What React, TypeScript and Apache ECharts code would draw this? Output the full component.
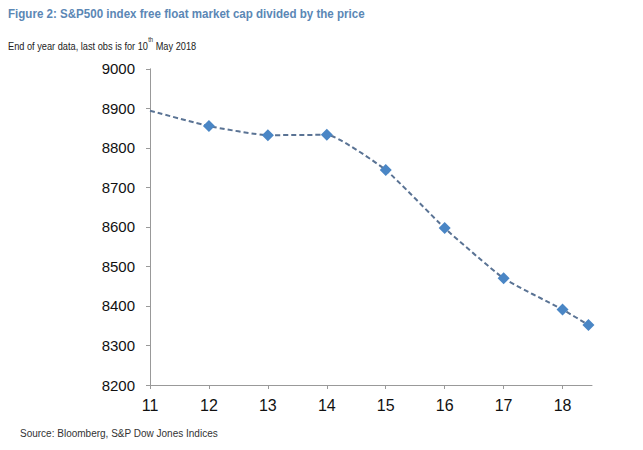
import React, { useEffect, useRef } from "react";
import * as echarts from "echarts";

const xValues = [11, 12, 13, 14, 15, 16, 17, 18, 18.44];
const yValues = [8894, 8855, 8832, 8833, 8744, 8597, 8470, 8391, 8352];
const titleText = "Figure 2: S&P500 index free float market cap divided by the price";
const sourceText = "Source: Bloomberg, S&P Dow Jones Indices";

const FONT = "'Liberation Sans', Arial, sans-serif";

export default function App() {
  const ref = useRef<HTMLDivElement>(null);
  useEffect(() => {
    if (!ref.current) return;
    const chart = echarts.init(ref.current, undefined, { renderer: "svg" });
    const data = xValues.map((x, i) =>
      i === 0 ? { value: [x, yValues[i]], symbol: "none" } : { value: [x, yValues[i]] }
    );
    chart.setOption({
      animation: false,
      backgroundColor: "#ffffff",
      textStyle: { fontFamily: FONT },
      graphic: [
        {
          type: "text",
          x: 8,
          y: 7,
          scaleX: 0.89,
          style: {
            text: titleText,
            fill: "#5b87b5",
            font: "bold 13px " + FONT,
            verticalAlign: "top",
          },
        },
        {
          type: "text",
          x: 8,
          y: 36,
          scaleX: 0.84,
          style: {
            text: "{a|End of year data, last obs is for 10}{s|th}{a| May 2018}",
            verticalAlign: "top",
            rich: {
              a: { fontSize: 11, fill: "#222", fontFamily: FONT, verticalAlign: "bottom", lineHeight: 16 },
              s: { fontSize: 7, fill: "#222", fontFamily: FONT, verticalAlign: "top", lineHeight: 10, padding: [0, 0, 6, 0] },
            },
          },
        },
        {
          type: "text",
          x: 20,
          y: 428,
          style: {
            text: sourceText,
            fill: "#333",
            font: "10px " + FONT,
            verticalAlign: "top",
          },
        },
      ],
      grid: { left: 150, right: 51, top: 68.8, bottom: 65, containLabel: false },
      xAxis: {
        type: "value",
        min: 11,
        max: 18.5,
        interval: 1,
        splitLine: { show: false },
        axisLine: { lineStyle: { color: "#999", width: 1 } },
        axisTick: { show: true, length: 4, lineStyle: { color: "#999" } },
        axisLabel: {
          color: "#111",
          fontSize: 16,
          margin: 12,
          showMaxLabel: false,
          formatter: (v: number) => (Number.isInteger(v) ? String(v) : ""),
        },
      },
      yAxis: {
        type: "value",
        min: 8200,
        max: 9000,
        interval: 100,
        splitLine: { show: false },
        axisLine: { show: true, lineStyle: { color: "#999", width: 1 } },
        axisTick: { show: true, length: 4, lineStyle: { color: "#999" } },
        axisLabel: {
          color: "#111",
          fontSize: 15,
          margin: 15,
          formatter: (v: number) => String(v),
        },
      },
      series: [
        {
          type: "line",
          data,
          smooth: 0.15,
          symbol: "diamond",
          symbolSize: 12,
          itemStyle: { color: "#4a86c5" },
          lineStyle: { color: "#5a7394", width: 2, type: [5, 3] },
        },
      ],
    });
    return () => chart.dispose();
  }, []);
  return <div ref={ref} style={{ position: "fixed", left: 0, top: 0, width: 643, height: 450 }} />;
}
